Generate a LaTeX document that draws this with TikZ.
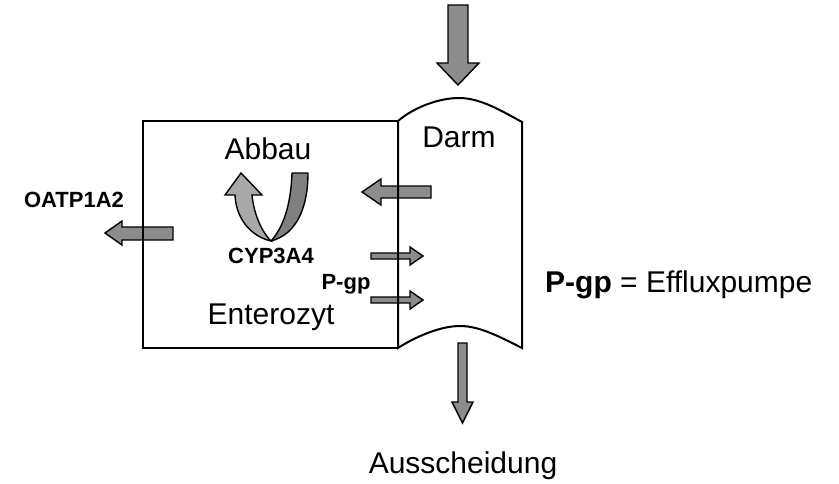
\documentclass[tikz,border=0pt]{standalone}
\usepackage{fontspec}
\setmainfont{Liberation Sans}
\definecolor{arrowfill}{RGB}{140,140,140}
\definecolor{armlight}{RGB}{168,168,168}
\definecolor{armdark}{RGB}{128,128,128}
\tikzset{
  blockarrow/.style={draw=black, line width=1.4pt, fill=arrowfill, line join=miter},
  wall/.style={draw=black, line width=2pt, line join=miter},
  bigtext/.style={font=\fontsize{30}{36}\selectfont, inner sep=0pt, anchor=base},
  smallbold/.style={font=\fontsize{22}{26}\selectfont\bfseries, inner sep=0pt, anchor=base},
}
\begin{document}
\begin{tikzpicture}[x=1pt, y=-1pt]
\useasboundingbox (0,0) rectangle (839,483);

% inflow from above into the gut
\draw[blockarrow] (448,5) -- (468,5) -- (468,63) -- (479,63) -- (458,85)
  -- (437,63) -- (448,63) -- cycle;
% excretion below the gut
\draw[blockarrow] (458,343) -- (467,343) -- (467,402) -- (473,402) -- (462.5,423)
  -- (452,402) -- (458,402) -- cycle;
% uptake from the gut into the enterocyte
\draw[blockarrow] (431,186) -- (381,186) -- (381,179) -- (362,192)
  -- (381,205) -- (381,198) -- (431,198) -- cycle;
% OATP1A2 transport out of the enterocyte
\draw[blockarrow] (173,227) -- (122,227) -- (122,221) -- (105,233)
  -- (122,245) -- (122,240) -- (173,240) -- cycle;
% P-gp efflux arrows
\draw[blockarrow] (371,253) -- (410,253) -- (410,247) -- (423,256)
  -- (410,265) -- (410,259) -- (371,259) -- cycle;
\draw[blockarrow] (371,297) -- (410,297) -- (410,291) -- (423,300)
  -- (410,309) -- (410,303) -- (371,303) -- cycle;

% CYP3A4 degradation loop: dark descending arm, light rising arm with head
\draw[draw=black, line width=1.4pt, fill=armdark, line join=round]
  (292,173) -- (308,173) .. controls (308,205) and (298,234) .. (271,241)
  .. controls (283,228) and (291,205) .. (292,173) -- cycle;
\draw[draw=black, line width=1.4pt, fill=armlight, line join=miter]
  (235,195) -- (225,195) -- (241,173) -- (262,195) -- (252,195)
  .. controls (254,215) and (262,232) .. (271,241)
  .. controls (250,236) and (236,218) .. (235,195) -- cycle;

% enterocyte box
\draw[wall] (398,121) -- (143,121) -- (143,348) -- (398,348);
% gut segment with wavy ends
\draw[wall] (398,121) .. controls (413,108) and (438,98) .. (459,98)
  .. controls (480,98) and (500,110) .. (522,122) -- (522,348)
  .. controls (500,337) and (480,326) .. (460,326)
  .. controls (440,326) and (415,337) .. (398,348) -- cycle;

% labels
\node[bigtext] (darm) at (459,147) {Darm};
\node[bigtext] (abbau) at (268,159) {Abbau};
\node[bigtext] (entero) at (271,324) {Enterozyt};
\node[bigtext] (aus) at (463,473) {Ausscheidung};
\node[smallbold] (cyp) at (271,263) {CYP3A4};
\node[smallbold] (pgp) at (346,289) {P-gp};
\node[smallbold] (oatp) at (74,207) {OATP1A2};
\node[bigtext, anchor=base west] (legend) at (545,292)
  {\textbf{P-gp} = Effluxpumpe};
\end{tikzpicture}
\end{document}
